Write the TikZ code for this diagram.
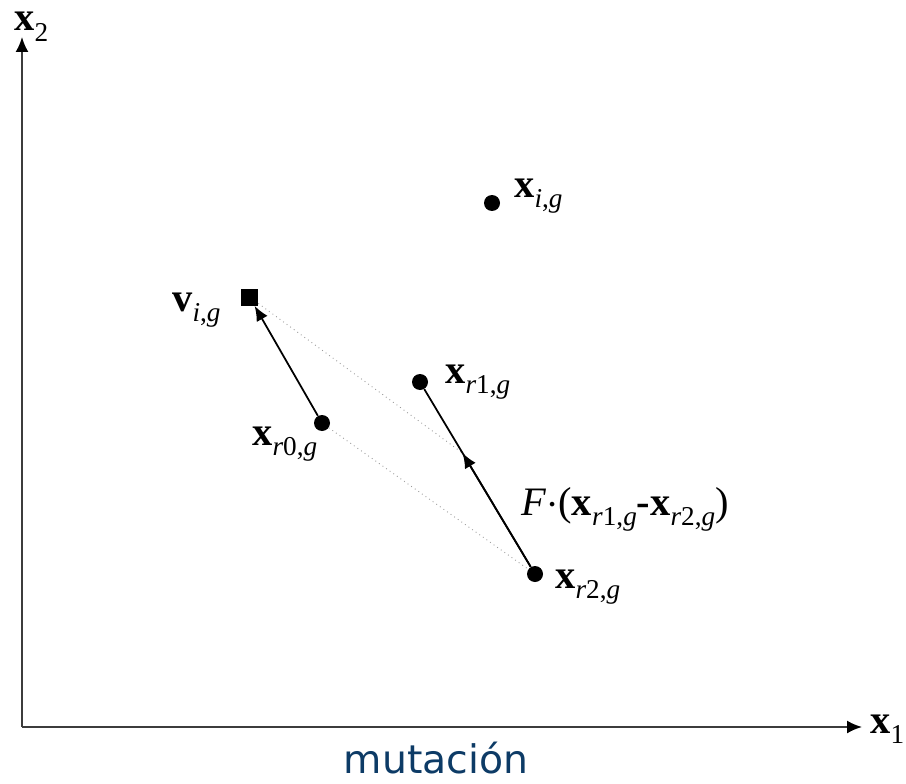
\documentclass[tikz,border=0pt]{standalone}
\usepackage{fontspec}
\setmainfont{Liberation Serif}
\newfontfamily\captionfont{DejaVu Sans}
\usepackage{xcolor}
\definecolor{axisGray}{HTML}{3C3C3C}
\definecolor{dotGray}{HTML}{9A9A9A}
\definecolor{captionBlue}{HTML}{0D3B66}
\usetikzlibrary{arrows.meta,calc}
\tikzset{
    % points of the population
    popdot/.style={circle, fill=black, inner sep=0pt, minimum size=0.32cm},
    % mutant vector
    mutbox/.style={rectangle, fill=black, inner sep=0pt, minimum size=0.34cm},
    % axes
    axis/.style={draw=axisGray, line width=1.1pt, -{Latex[length=0.3cm, width=0.26cm, black]}},
    % difference vectors
    vecarrow/.style={draw=black, line width=1pt, -{Latex[length=0.3cm, width=0.25cm]}},
    % construction lines
    helper/.style={draw=dotGray, line width=0.5pt, dotted},
    % labels
    lbl/.style={anchor=base west, inner sep=0pt, font=\fontsize{23}{27}\selectfont},
}
% bold vector with a lowered subscript
\newcommand{\vsub}[2]{\textbf{#1}\raisebox{-6pt}{\fontsize{15.5}{17}\selectfont #2}}
\begin{document}
\begin{tikzpicture}[x=0.02cm, y=-0.02cm]
    \useasboundingbox (0,0) rectangle (906,784);

    % axes
    \coordinate (origin) at (22,727);
    \coordinate (ytip) at (22,37);
    \coordinate (xtip) at (862,727);
    \draw [axis] (origin) -- (ytip);
    \draw [axis] (origin) -- (xtip);
    \node (xtwo) [lbl] at (14,31) {\vsub{x}{2}};
    \node (xone) [lbl] at (870,733) {\vsub{x}{1}};

    % points
    \node (xi) [popdot] at (492,203) {};
    \node (vi) [mutbox] at (249.5,297) {};
    \node (xr1) [popdot] at (420,382) {};
    \node (xr0) [popdot] at (322,423) {};
    \node (xr2) [popdot] at (535,574) {};
    \coordinate (mid) at ($(xr2)!0.63!(xr1)$);

    % construction
    \draw [helper] (vi) -- (mid);
    \draw [helper] (xr0) -- (xr2);
    \draw [line width=1pt, black] (xr2) -- (xr1);
    \draw [vecarrow] (xr2) -- (mid);
    \draw [vecarrow] (xr0) -- (vi);

    % labels
    \node (lxi) [lbl] at (514,197) {\vsub{x}{\textit{i},\textit{g}}};
    \node (lvi) [lbl] at (172,311) {\vsub{v}{\textit{i},\textit{g}}};
    \node (lxr1) [lbl] at (445,383) {\vsub{x}{\textit{r}1,\textit{g}}};
    \node (lxr0) [lbl] at (252,445) {\vsub{x}{\textit{r}0,\textit{g}}};
    \node (lxr2) [lbl] at (555,588) {\vsub{x}{\textit{r}2,\textit{g}}};
    \node (ldiff) [lbl] at (521,515) {\textit{F}$\cdot$(\vsub{x}{\textit{r}1,\textit{g}}\textbf{-}\vsub{x}{\textit{r}2,\textit{g}})};

    \node (caption) [anchor=base, inner sep=0pt, text=captionBlue,
        font=\captionfont\fontsize{22.4}{26}\selectfont] at (436,773) {mutación};
\end{tikzpicture}
\end{document}
